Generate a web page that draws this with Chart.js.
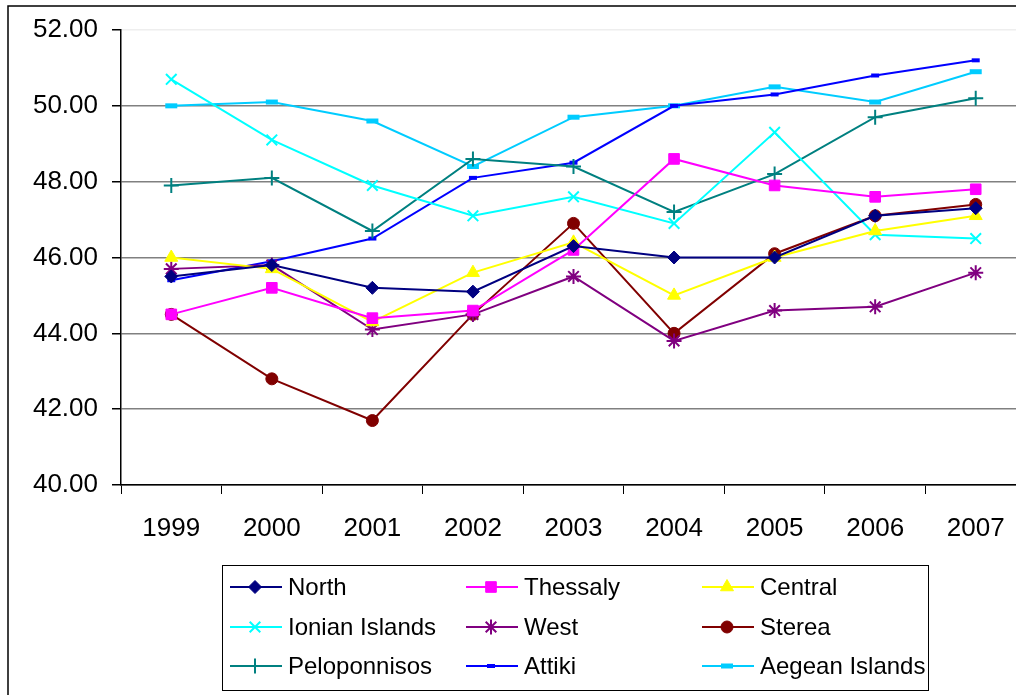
<!DOCTYPE html>
<html>
<head>
<meta charset="utf-8">
<script src="https://cdn.jsdelivr.net/npm/chart.js@4.4.1/dist/chart.umd.min.js"></script>
<style>
  html, body { margin: 0; padding: 0; background: #fff; overflow: hidden; }
  canvas { display: block; }
</style>
</head>
<body>
<canvas id="chart" width="1037" height="695"></canvas>
<script>
// Categorias e valores
const years = ["1999", "2000", "2001", "2002", "2003", "2004", "2005", "2006", "2007"];

const north        = [45.5, 45.8, 45.2, 45.1, 46.3, 46.0, 46.0, 47.1, 47.3];
const thessaly     = [44.5, 45.2, 44.4, 44.6, 46.2, 48.6, 47.9, 47.6, 47.8];
const central      = [46.0, 45.7, 44.3, 45.6, 46.4, 45.0, 46.0, 46.7, 47.1];
const ionian       = [50.7, 49.1, 47.9, 47.1, 47.6, 46.9, 49.3, 46.6, 46.5];
const west         = [45.7, 45.8, 44.1, 44.5, 45.5, 43.8, 44.6, 44.7, 45.6];
const sterea       = [44.5, 42.8, 41.7, 44.5, 46.9, 44.0, 46.1, 47.1, 47.4];
const peloponnisos = [47.9, 48.1, 46.7, 48.6, 48.4, 47.2, 48.2, 49.7, 50.2];
const attiki       = [45.4, 45.9, 46.5, 48.1, 48.5, 50.0, 50.3, 50.8, 51.2];
const aegean       = [50.0, 50.1, 49.6, 48.4, 49.7, 50.0, 50.5, 50.1, 50.9];

const yMin = 40, yMax = 52, yStep = 2;

const FONT = "'Liberation Sans', Arial, sans-serif";

// Monta um dataset de linha com marcador
function serie(label, data, color, style, radius, bw) {
  return {
    label,
    data,
    borderColor: color,
    backgroundColor: color,
    borderWidth: 2,
    pointStyle: style,
    pointRadius: radius,
    pointHoverRadius: radius,
    pointBorderWidth: bw,
    pointBorderColor: color,
    pointBackgroundColor: color,
    tension: 0,
    fill: false
  };
}

const datasets = [
  serie("North", north, "#000080", "rectRot", 6.5, 1),
  serie("Thessaly", thessaly, "#FF00FF", "rect", 7.5, 1),
  serie("Central", central, "#FFFF00", "triangle", 7.5, 1),
  serie("Ionian Islands", ionian, "#00FFFF", "crossRot", 7.5, 2),
  serie("West", west, "#800080", "star", 7.5, 2),
  serie("Sterea", sterea, "#800000", "circle", 6, 1),
  serie("Peloponnisos", peloponnisos, "#008080", "cross", 7.5, 2),
  serie("Attiki", attiki, "#0000FF", "line", 4, 4),
  serie("Aegean Islands", aegean, "#00CCFF", "line", 6, 5)
];

// Moldura externa e legenda desenhadas no canvas
const extras = {
  id: "extras",
  afterDraw(chart) {
    const ctx = chart.ctx;
    ctx.save();
    ctx.strokeStyle = "#000";
    ctx.lineWidth = 1.5;
    ctx.strokeRect(8, 6, 1060, 720);

    // caixa da legenda
    ctx.lineWidth = 1;
    ctx.strokeRect(222.5, 565.5, 706, 125);

    const colsLine = [230, 466, 702];
    const rowsY = [587, 627, 666];
    ctx.font = "24px " + FONT;
    ctx.textBaseline = "middle";
    ctx.textAlign = "left";
    chart.data.datasets.forEach((ds, i) => {
      const x = colsLine[i % 3];
      const y = rowsY[Math.floor(i / 3)];
      ctx.strokeStyle = ds.borderColor;
      ctx.fillStyle = ds.borderColor;
      ctx.lineWidth = 2;
      ctx.beginPath();
      ctx.moveTo(x, y);
      ctx.lineTo(x + 52, y);
      ctx.stroke();
      ctx.lineWidth = ds.pointBorderWidth;
      Chart.helpers.drawPoint(ctx, {
        pointStyle: ds.pointStyle,
        radius: ds.pointRadius,
        rotation: 0,
        borderWidth: ds.pointBorderWidth
      }, x + 25, y);
      ctx.fillStyle = "#000";
      ctx.fillText(ds.label, x + 58, y + 1);
    });
    ctx.restore();
  }
};

new Chart(document.getElementById("chart"), {
  type: "line",
  data: { labels: years, datasets },
  plugins: [extras],
  options: {
    responsive: false,
    animation: false,
    layout: { padding: { top: 30, left: 0, right: 0, bottom: 0 } },
    plugins: {
      legend: { display: false },
      tooltip: { enabled: false }
    },
    scales: {
      x: {
        offset: true,
        afterFit: s => { s.height = 210; },
        grid: {
          offset: true,
          drawOnChartArea: false,
          drawTicks: true,
          tickLength: 9,
          tickColor: "#000"
        },
        border: { color: "#000", width: 1.5 },
        ticks: {
          color: "#000",
          font: { family: FONT, size: 26 },
          padding: 19,
          maxRotation: 0
        }
      },
      y: {
        min: yMin,
        max: yMax,
        afterFit: s => { s.width = 121; },
        grid: {
          color: c => (c.tick && c.tick.value === yMax) ? "#eeeeee" : "#808080",
          lineWidth: 1.5,
          tickLength: 9,
          tickColor: "#000"
        },
        border: { color: "#000", width: 1.5 },
        ticks: {
          stepSize: yStep,
          color: "#000",
          font: { family: FONT, size: 26 },
          padding: 14,
          callback: v => Number(v).toFixed(2)
        }
      }
    }
  }
});
</script>
</body>
</html>
